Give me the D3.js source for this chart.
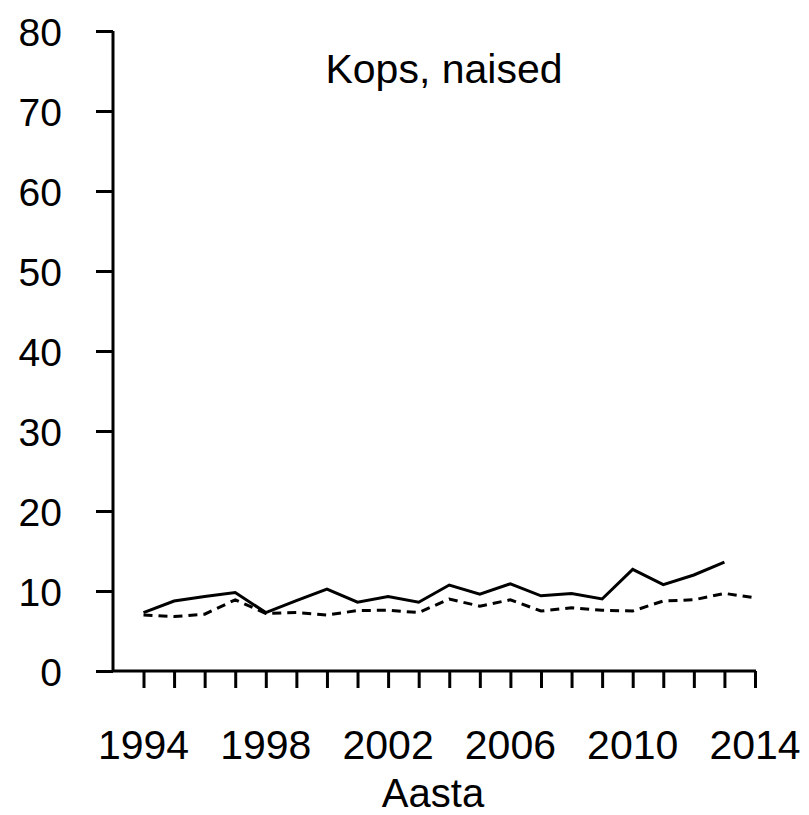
<!DOCTYPE html>
<html>
<head>
<meta charset="utf-8">
<script src="https://cdn.jsdelivr.net/npm/d3@7"></script>
<style>
  body { margin: 0; background: #fff; }
  text { font-family: "Liberation Sans", Arial, sans-serif; fill: #000; }
</style>
</head>
<body>
<svg id="chart"></svg>
<script>
let width = 809,
    height = 815;

let years = d3.range(1994, 2015);
let yearTicks = [1994, 1998, 2002, 2006, 2010, 2014];
let valueTicks = [0, 10, 20, 30, 40, 50, 60, 70, 80];

// solid line ends in 2013
let solidValues = [7.3, 8.75, 9.3, 9.8, 7.3, 8.8, 10.25, 8.6, 9.3, 8.6,
    10.75, 9.6, 10.9, 9.4, 9.7, 9.0, 12.7, 10.8, 12.0, 13.6];
let dashedValues = [7.0, 6.8, 7.1, 8.9, 7.2, 7.3, 7.0, 7.55, 7.6, 7.3,
    9.0, 8.1, 8.9, 7.5, 7.9, 7.6, 7.5, 8.75, 8.9, 9.7, 9.15];

let title = "Kops, naised";
let xTitle = "Aasta";

let svg = d3.select("svg#chart")
    .attr("width", width)
    .attr("height", height);

let x = d3.scaleLinear().domain([1994, 2014]).range([143.5, 755]);
let y = d3.scaleLinear().domain([0, 80]).range([671, 31]);

let axisLeft = 113;

// y axis
let yAxis = svg.append("g")
    .attr("transform", `translate(${axisLeft}, 0)`)
    .call(d3.axisLeft(y).tickValues(valueTicks).tickSize(17).tickPadding(34).tickSizeOuter(0));
yAxis.select(".domain").attr("stroke-width", 3).attr("d", `M0,${y(80)}V${y(0)}`);
yAxis.selectAll(".tick line").attr("stroke-width", 3);
yAxis.selectAll(".tick text")
    .attr("font-size", 39)
    .attr("font-family", "'Liberation Sans', Arial, sans-serif")
    .attr("dy", "0.36em");

// x axis
let xAxis = svg.append("g")
    .attr("transform", `translate(0, ${y(0)})`)
    .call(d3.axisBottom(x).tickValues(years).tickSize(17).tickSizeOuter(0).tickFormat(""));
xAxis.select(".domain").attr("stroke-width", 3).attr("d", `M${axisLeft},0H${x(2014) + 1}`);
xAxis.selectAll(".tick line").attr("stroke-width", 3);

svg.append("g").selectAll("text")
    .data(yearTicks)
    .enter().append("text")
    .attr("x", d => x(d))
    .attr("y", 759)
    .attr("text-anchor", "middle")
    .attr("font-size", 41)
    .text(d => d);

svg.append("text")
    .attr("x", 433)
    .attr("y", 807)
    .attr("text-anchor", "middle")
    .attr("font-size", 40)
    .text(xTitle);

svg.append("text")
    .attr("x", 444)
    .attr("y", 83)
    .attr("text-anchor", "middle")
    .attr("font-size", 41)
    .text(title);

let line = d3.line()
    .x((d, i) => x(years[i]))
    .y(d => y(d));

svg.append("path")
    .datum(dashedValues)
    .attr("fill", "none")
    .attr("stroke", "#000")
    .attr("stroke-width", 3)
    .attr("stroke-dasharray", "9,6")
    .attr("d", line);

svg.append("path")
    .datum(solidValues)
    .attr("fill", "none")
    .attr("stroke", "#000")
    .attr("stroke-width", 3)
    .attr("stroke-linejoin", "miter")
    .attr("d", line);
</script>
</body>
</html>
